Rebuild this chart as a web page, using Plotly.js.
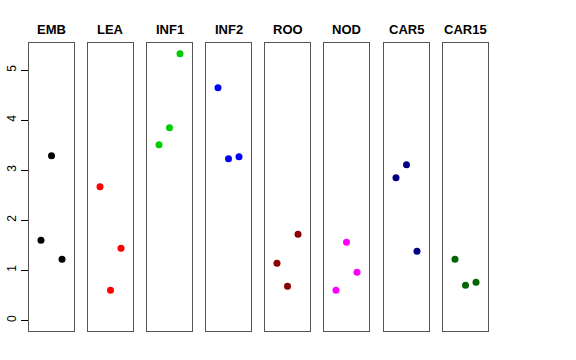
<!DOCTYPE html>
<html><head><meta charset="utf-8">
<script src="https://cdn.plot.ly/plotly-3.0.1.min.js"></script>
<style>html,body{margin:0;padding:0;background:#fff}#chart{width:576px;height:360px}</style>
</head><body><div id="chart"></div>
<script>
// Data
const tissues = ["EMB","LEA","INF1","INF2","ROO","NOD","CAR5","CAR15"];
const colors = ["#000000","#FF0000","#00CD00","#0000FF","#8B0000","#FF00FF","#000080","#006400"];
const jitterPos = [1,2,3];
const EMB   = [1.60, 3.29, 1.22];
const LEA   = [2.67, 0.60, 1.44];
const INF1  = [3.51, 3.85, 5.33];
const INF2  = [4.65, 3.23, 3.27];
const ROO   = [1.14, 0.68, 1.72];
const NOD   = [0.60, 1.56, 0.96];
const CAR5  = [2.85, 3.11, 1.38];
const CAR15 = [1.22, 0.70, 0.76];
const values = [EMB, LEA, INF1, INF2, ROO, NOD, CAR5, CAR15];
const yTicks = [0,1,2,3,4,5];

const W = 576, H = 360;
const panelLeft = [29, 88, 147, 206, 265, 324, 384, 443];
const panelW = 45;
const panelTop = 43, panelBottom = 331;
const yMax = 5.33;

const traces = [];
const layout = {
  width: W, height: H,
  margin: {l:0, r:0, t:0, b:0},
  paper_bgcolor: "#fff", plot_bgcolor: "#fff",
  showlegend: false,
  font: {family: "Liberation Sans, Arial, Helvetica, sans-serif", color: "#000"},
  annotations: []
};
tissues.forEach((t, i) => {
  const sx = i === 0 ? "" : String(i+1);
  traces.push({
    type: "scatter", mode: "markers",
    x: jitterPos, y: values[i],
    xaxis: "x"+sx, yaxis: "y"+sx,
    marker: {color: colors[i], size: 7},
    hoverinfo: "skip"
  });
  const d0 = panelLeft[i]/W, d1 = (panelLeft[i]+panelW)/W;
  layout["xaxis"+sx] = {
    domain: [d0, d1], range: [-0.14, 4.14],
    showgrid: false, zeroline: false, showticklabels: false, ticks: "",
    showline: true, mirror: true, linecolor: "#555", linewidth: 1.3,
    anchor: "y"+sx, fixedrange: true
  };
  layout["yaxis"+sx] = {
    domain: [(H-panelBottom)/H, (H-panelTop)/H], range: [-0.04*yMax, 1.04*yMax],
    showgrid: false, zeroline: false,
    showline: true, mirror: true, linecolor: "#555", linewidth: 1.3,
    anchor: "x"+sx, fixedrange: true,
    showticklabels: i === 0, ticks: i === 0 ? "outside" : "",
    tickvals: yTicks, ticktext: yTicks.map(String),
    ticklen: 7, tickcolor: "#000", tickwidth: 1,
    tickangle: -90, tickfont: {size: 12, color: "#000"}
  };
  layout.annotations.push({
    text: "<b>"+t+"</b>", xref: "paper", yref: "paper",
    x: (panelLeft[i]+panelW/2)/W, y: (H-29)/H,
    xanchor: "center", yanchor: "middle", showarrow: false,
    font: {size: 13, color: "#000"}
  });
});
Plotly.newPlot("chart", traces, layout, {staticPlot: true, displayModeBar: false});
</script></body></html>
